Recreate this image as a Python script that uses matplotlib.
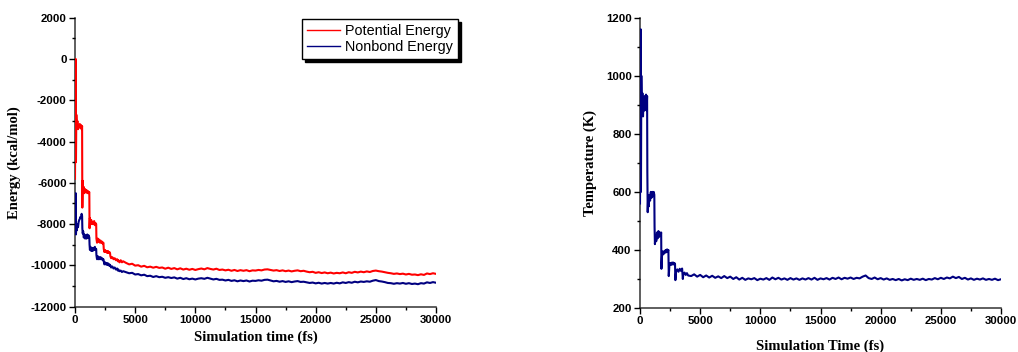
import numpy as np
import matplotlib
matplotlib.use("Agg")
import matplotlib.pyplot as plt
from matplotlib.ticker import MultipleLocator

plt.rcParams["axes.unicode_minus"] = False

# ---------------- data ----------------
time_early = [0, 60, 80, 110, 150, 200, 250, 300, 350, 400, 450, 500, 550, 590,
              610, 640, 680, 730, 780, 840, 900, 960, 1020, 1080, 1140, 1190,
              1210, 1240, 1290, 1350, 1410, 1470, 1530, 1590, 1650, 1710, 1760,
              1780, 1830, 1890, 1950, 2010, 2070, 2130, 2190, 2250, 2310, 2360,
              2390, 2440, 2500, 2560, 2620, 2680, 2740, 2800, 2860, 2910,
              2940, 3000, 3100, 3200, 3300, 3400, 3500, 3560, 3600, 3700, 3800, 3900, 4000]
time_late = list(range(4250, 30001, 250))

potential_early = [-5800, 0, -5000, -2700, -3300, -3000, -3400, -3200, -3300, -3150, -3350, -3200, -3400, -3250,
                   -7200, -5900, -6400, -6200, -6500, -6300, -6450, -6350, -6500, -6400, -6500, -6450,
                   -8200, -7700, -8000, -7800, -8000, -7900, -8000, -7850, -8050, -7950, -8000,
                   -8700, -8900, -8700, -8850, -8750, -8900, -8800, -8900, -8850, -8950, -8900,
                   -9200, -9350, -9250, -9350, -9300, -9400, -9300, -9400, -9350, -9400,
                   -9550, -9650, -9600, -9700, -9650, -9750, -9700, -9800, -9750, -9850, -9750, -9850, -9800]
potential_late = [-9880, -9950, -9920, -10010, -9990, -10060, -10020, -10090,
                  -10060, -10110, -10070, -10120, -10100, -10160, -10110, -10170,
                  -10130, -10190, -10140, -10200, -10160, -10210, -10170, -10220,
                  -10180, -10150, -10190, -10130, -10170, -10200, -10160, -10220,
                  -10200, -10240, -10210, -10260, -10220, -10270, -10230, -10260,
                  -10230, -10280, -10240, -10250, -10220, -10240, -10200, -10190,
                  -10220, -10250, -10230, -10270, -10240, -10280, -10250, -10290,
                  -10260, -10240, -10280, -10260, -10300, -10330, -10310, -10360,
                  -10330, -10370, -10340, -10380, -10350, -10390, -10360, -10380,
                  -10340, -10380, -10330, -10360, -10310, -10340, -10300, -10330,
                  -10290, -10320, -10270, -10250, -10280, -10300, -10330, -10360,
                  -10380, -10410, -10390, -10420, -10400, -10440, -10410, -10450,
                  -10440, -10470, -10430, -10460, -10390, -10420, -10380, -10410]

nonbond_early = [-8400, -6500, -8500, -8000, -8300, -8000, -8150, -7900, -7800, -7750, -7650, -7700, -7500, -7600,
                 -8200, -8450, -8350, -8650, -8500, -8700, -8550, -8700, -8500, -8650, -8550, -8650,
                 -9000, -9250, -9100, -9300, -9150, -9300, -9150, -9250, -9100, -9250, -9200,
                 -9500, -9700, -9550, -9700, -9600, -9700, -9600, -9700, -9650, -9750, -9700,
                 -9800, -9950, -9850, -9950, -9880, -9980, -9900, -10000, -9950, -10020,
                 -10000, -10100, -10050, -10150, -10100, -10200, -10150, -10250, -10200, -10280, -10250, -10320, -10280]
nonbond_late = [-10330, -10380, -10360, -10440, -10420, -10480, -10450, -10520,
                -10500, -10560, -10520, -10570, -10550, -10600, -10570, -10610,
                -10580, -10640, -10600, -10660, -10620, -10670, -10640, -10680,
                -10640, -10620, -10650, -10600, -10640, -10680, -10650, -10700,
                -10690, -10730, -10700, -10750, -10720, -10770, -10730, -10760,
                -10730, -10780, -10740, -10750, -10720, -10740, -10700, -10690,
                -10730, -10770, -10750, -10790, -10760, -10800, -10770, -10810,
                -10780, -10760, -10800, -10790, -10820, -10850, -10830, -10870,
                -10840, -10880, -10850, -10880, -10850, -10880, -10840, -10870,
                -10820, -10850, -10810, -10840, -10790, -10820, -10780, -10800,
                -10770, -10790, -10740, -10710, -10760, -10780, -10810, -10850,
                -10860, -10890, -10860, -10880, -10850, -10890, -10860, -10900,
                -10880, -10910, -10860, -10880, -10820, -10850, -10810, -10840]

temperature_early = [560, 1160, 600, 1000, 870, 940, 860, 920, 880, 930, 890, 935, 880, 930,
                     670, 530, 580, 550, 590, 570, 600, 580, 600, 585, 600, 590,
                     480, 420, 450, 430, 460, 440, 465, 445, 460, 450, 460,
                     335, 380, 395, 385, 395, 390, 400, 392, 402, 395, 400,
                     310, 345, 355, 348, 356, 350, 357, 350, 355, 352,
                     296, 325, 333, 325, 335, 328, 336, 300, 318, 322, 314, 320, 312]
temperature_late = [310, 316, 308, 314, 306, 312, 305, 311,
                    304, 309, 303, 310, 303, 308, 300, 306,
                    298, 304, 297, 302, 299, 303, 296, 301,
                    298, 303, 297, 305, 299, 304, 298, 302,
                    297, 303, 298, 302, 297, 302, 298, 303,
                    298, 304, 297, 302, 299, 303, 298, 304,
                    300, 305, 299, 304, 301, 305, 300, 304,
                    302, 308, 312, 303, 300, 305, 299, 303,
                    298, 302, 297, 300, 296, 300, 295, 299,
                    296, 301, 297, 300, 297, 301, 296, 300,
                    298, 303, 299, 304, 300, 305, 302, 308,
                    303, 307, 300, 304, 298, 302, 297, 301,
                    298, 302, 297, 300, 297, 301, 296, 299]

time = time_early + time_late
potential = potential_early + potential_late
nonbond = nonbond_early + nonbond_late
temperature = temperature_early + temperature_late

# ---------------- figure ----------------
W, H = 1018, 352
fig = plt.figure(figsize=(W / 100, H / 100), dpi=100)

tick_font = dict(family="Liberation Sans", weight="bold", size=8.2)
label_font = dict(family="Liberation Serif", weight="bold", size=10.5)

def style(ax):
    for s in ("top", "right"):
        ax.spines[s].set_visible(False)
    for s in ("left", "bottom"):
        ax.spines[s].set_linewidth(1.1)
        ax.spines[s].set_color("#333333")
        ax.spines[s].set_zorder(1)
    ax.tick_params(which="major", direction="out", length=4, width=1.0, pad=2, colors="black")
    ax.tick_params(which="minor", direction="out", length=2.5, width=1.0)
    ax.xaxis.set_major_locator(MultipleLocator(5000))
    ax.xaxis.set_minor_locator(MultipleLocator(2500))
    ax.set_xlim(0, 30000)
    for lab in ax.get_xticklabels() + ax.get_yticklabels():
        lab.set_fontfamily(tick_font["family"])
        lab.set_fontweight(tick_font["weight"])
        lab.set_fontsize(tick_font["size"])

# left panel
ax1 = fig.add_axes([75 / W, (H - 306.7) / H, 361 / W, 289 / H])
ax1.plot(time, potential, color="#ff0000", lw=1.5, label="Potential Energy", zorder=3)
ax1.plot(time, nonbond, color="#000080", lw=1.5, label="Nonbond Energy", zorder=3)
ax1.set_ylim(-12000, 2000)
ax1.yaxis.set_major_locator(MultipleLocator(2000))
ax1.yaxis.set_minor_locator(MultipleLocator(1000))
style(ax1)
ax1.set_xlabel("Simulation time (fs)", **label_font)
ax1.set_ylabel("Energy (kcal/mol)", **label_font)
ax1.xaxis.set_label_coords(0.5, (306.7 - 331) / 289)
ax1.yaxis.set_label_coords((21 - 75) / 361, 0.5)

leg = ax1.legend(loc="upper right", bbox_to_anchor=(458 / W, 1 - 19 / H),
                 bbox_transform=fig.transFigure, borderaxespad=0,
                 fancybox=False, shadow={"color": "black", "alpha": 1.0},
                 framealpha=1.0, edgecolor="black",
                 prop=dict(family="Liberation Sans", size=10.4),
                 handlelength=2.3, handletextpad=0.35, labelspacing=0.16,
                 borderpad=0.35)
leg.get_frame().set_linewidth(1.0)
for line in leg.get_lines():
    line.set_linewidth(1.0)

# right panel
ax2 = fig.add_axes([640 / W, (H - 308) / H, 361 / W, 290.3 / H])
ax2.plot(time, temperature, color="#000080", lw=1.5, zorder=3)
ax2.set_ylim(200, 1200)
ax2.yaxis.set_major_locator(MultipleLocator(200))
ax2.yaxis.set_minor_locator(MultipleLocator(100))
style(ax2)
ax2.set_xlabel("Simulation Time (fs)", **label_font)
ax2.set_ylabel("Temperature (K)", **label_font)
ax2.xaxis.set_label_coords(0.5, (308 - 340) / 290.3)
ax2.yaxis.set_label_coords((597 - 640) / 361, 0.5)

fig.savefig("out.png", dpi=100)
